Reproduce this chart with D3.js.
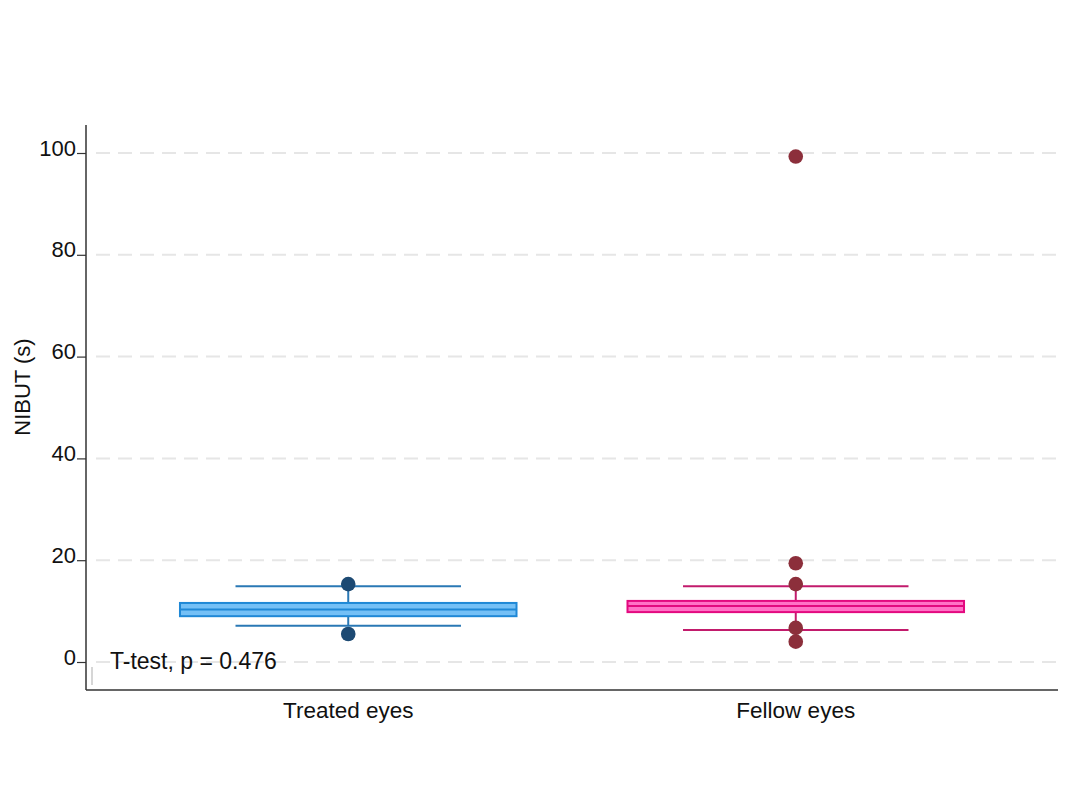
<!DOCTYPE html>
<html>
<head>
<meta charset="utf-8">
<script src="https://cdn.jsdelivr.net/npm/d3@7"></script>
<style>
  body { margin: 0; background: #fff; }
  svg { display: block; font-family: Arial, "Liberation Sans", sans-serif; }
</style>
</head>
<body>
<svg id="chart" width="1076" height="790"></svg>
<script>
// Groups and summary values (NIBUT, seconds)
const groups = ["Treated eyes", "Fellow eyes"];
const boxLow = [9.0, 9.8];
const boxMid = [10.3, 11.0];
const boxHigh = [11.6, 12.0];
const whiskerLow = [7.1, 6.3];
const whiskerHigh = [14.9, 14.9];
const points = [
  [15.3, 5.5],
  [99.3, 19.4, 15.3, 6.7, 4.0]
];
const yTicks = [0, 20, 40, 60, 80, 100];
const annotation = "T-test, p = 0.476";

const colors = [
  { fill: "#74c0f6", stroke: "#1f88d6", mid: "#1f88d6", whisker: "#2a78b5", point: "#1d4a73" },
  { fill: "#ff72c6", stroke: "#e3097f", mid: "#e3097f", whisker: "#c21b6c", point: "#8c2f3b" }
];

const FONT = "Arial, 'Liberation Sans', sans-serif";
const svg = d3.select("#chart");
const plotLeft = 86, plotRight = 1058, plotTop = 125, plotBottom = 690;

const y = d3.scaleLinear().domain([0, 100]).range([662, 153]);
const x = d3.scaleBand().domain(groups).range([plotLeft, plotRight])
  .paddingInner(0.248).paddingOuter(0.21);

// Dashed gridlines
svg.append("g").selectAll("line").data(yTicks).join("line")
  .attr("x1", plotLeft + 10).attr("x2", plotRight)
  .attr("y1", d => y(d)).attr("y2", d => y(d))
  .attr("stroke", "#e6e6e6").attr("stroke-width", 2)
  .attr("stroke-dasharray", "14,8");

// Y axis
const yAxis = svg.append("g").attr("transform", `translate(${plotLeft},0)`)
  .call(d3.axisLeft(y).tickValues(yTicks).tickSize(9).tickPadding(1));
yAxis.attr("font-family", FONT);
yAxis.select(".domain").remove();
yAxis.selectAll(".tick line").attr("stroke", "#333").attr("stroke-width", 1.2);
yAxis.selectAll(".tick text").attr("font-size", 22).attr("fill", "#111")
  .attr("dy", null).attr("y", 2);

svg.append("line").attr("x1", plotLeft).attr("x2", plotLeft).attr("y1", plotTop).attr("y2", plotBottom)
  .attr("stroke", "#333").attr("stroke-width", 1.5);
svg.append("line").attr("x1", plotLeft).attr("x2", plotRight).attr("y1", plotBottom).attr("y2", plotBottom)
  .attr("stroke", "#333").attr("stroke-width", 1.5);

// small marker near origin
svg.append("line").attr("x1", 92).attr("x2", 92).attr("y1", 667).attr("y2", 685)
  .attr("stroke", "#bbb").attr("stroke-width", 1.2);

// X labels
svg.append("g").selectAll("text").data(groups).join("text")
  .attr("x", d => x(d) + x.bandwidth() / 2).attr("y", 718)
  .attr("text-anchor", "middle").attr("font-size", 22.5).attr("fill", "#111")
  .text(d => d);

// Y title
svg.append("text").attr("transform", "translate(30,387) rotate(-90)")
  .attr("text-anchor", "middle").attr("font-size", 22).attr("fill", "#111")
  .text("NIBUT (s)");

// Boxes, whiskers, points
groups.forEach((g, i) => {
  const c = colors[i];
  const cx = x(g) + x.bandwidth() / 2;
  const bw = x.bandwidth();
  const capHalf = bw * 0.335;
  const gg = svg.append("g");

  gg.append("line").attr("x1", cx).attr("x2", cx)
    .attr("y1", y(whiskerHigh[i])).attr("y2", y(whiskerLow[i]))
    .attr("stroke", c.whisker).attr("stroke-width", 2);

  [whiskerLow[i], whiskerHigh[i]].forEach(v => {
    gg.append("line").attr("x1", cx - capHalf).attr("x2", cx + capHalf)
      .attr("y1", y(v)).attr("y2", y(v))
      .attr("stroke", c.whisker).attr("stroke-width", 2);
  });

  gg.append("rect").attr("x", x(g)).attr("width", bw)
    .attr("y", y(boxHigh[i])).attr("height", y(boxLow[i]) - y(boxHigh[i]))
    .attr("fill", c.fill).attr("stroke", c.stroke).attr("stroke-width", 2);
  gg.append("line").attr("x1", x(g)).attr("x2", x(g) + bw)
    .attr("y1", y(boxMid[i])).attr("y2", y(boxMid[i]))
    .attr("stroke", c.mid).attr("stroke-width", 2);

  gg.selectAll("circle").data(points[i]).join("circle")
    .attr("cx", cx).attr("cy", d => y(d)).attr("r", 7.3)
    .attr("fill", c.point);
});

svg.append("text").attr("x", 110).attr("y", 669)
  .attr("font-size", 23).attr("fill", "#111").text(annotation);
</script>
</body>
</html>
